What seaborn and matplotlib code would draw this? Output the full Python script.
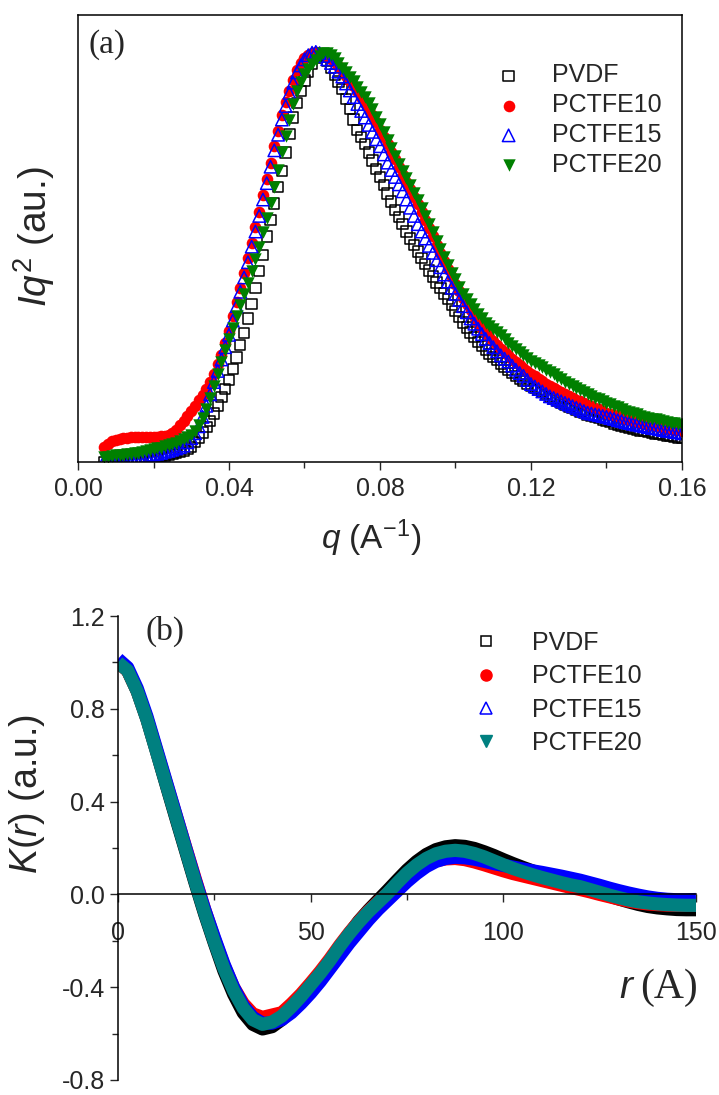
import matplotlib
matplotlib.use("Agg")
import matplotlib.pyplot as plt
from matplotlib.lines import Line2D
from matplotlib.ticker import MultipleLocator, FormatStrFormatter
import numpy as np
import seaborn as sns

# ---- panel (a): Iq^2 vs q, q = 0.007 ... 0.160 step 0.001 ----
q = np.round(np.arange(7, 161) / 1000, 3)

pvdf_a = [
    0.000, 0.001, 0.001, 0.002, 0.002, 0.003, 0.003, 0.004, 0.005, 0.006,
    0.007, 0.008, 0.009, 0.010, 0.012, 0.014, 0.016, 0.018, 0.020, 0.023,
    0.025, 0.028, 0.032, 0.037, 0.048, 0.060, 0.072, 0.085, 0.100, 0.118,
    0.138, 0.158, 0.178, 0.200, 0.227, 0.255, 0.285, 0.315, 0.350, 0.385,
    0.425, 0.465, 0.505, 0.550, 0.590, 0.630, 0.670, 0.710, 0.755, 0.800,
    0.840, 0.875, 0.905, 0.930, 0.952, 0.970, 0.985, 0.993, 0.990, 0.978,
    0.962, 0.945, 0.928, 0.910, 0.885, 0.860, 0.835, 0.810, 0.792, 0.775,
    0.755, 0.735, 0.715, 0.695, 0.675, 0.655, 0.635, 0.615, 0.597, 0.580,
    0.562, 0.545, 0.529, 0.513, 0.497, 0.482, 0.467, 0.452, 0.438, 0.425,
    0.411, 0.397, 0.382, 0.368, 0.354, 0.340, 0.328, 0.316, 0.304, 0.293,
    0.283, 0.273, 0.264, 0.256, 0.248, 0.240, 0.232, 0.225, 0.217, 0.210,
    0.203, 0.197, 0.191, 0.186, 0.181, 0.176, 0.170, 0.165, 0.160, 0.155,
    0.150, 0.145, 0.140, 0.135, 0.131, 0.127, 0.123, 0.120, 0.116, 0.113,
    0.110, 0.107, 0.103, 0.100, 0.097, 0.094, 0.091, 0.089, 0.086, 0.084,
    0.082, 0.079, 0.077, 0.075, 0.073, 0.071, 0.069, 0.068, 0.066, 0.064,
    0.063, 0.062, 0.060, 0.059,
]
pctfe10_a = [
    0.037, 0.045, 0.050, 0.054, 0.056, 0.058, 0.059, 0.060, 0.061, 0.061,
    0.061, 0.061, 0.061, 0.062, 0.062, 0.063, 0.064, 0.066, 0.070, 0.078,
    0.090, 0.101, 0.113, 0.125, 0.137, 0.150, 0.163, 0.178, 0.195, 0.215,
    0.238, 0.262, 0.290, 0.320, 0.355, 0.390, 0.425, 0.460, 0.497, 0.535,
    0.572, 0.610, 0.650, 0.690, 0.730, 0.770, 0.808, 0.845, 0.877, 0.905,
    0.932, 0.955, 0.972, 0.985, 0.993, 0.998, 1.000, 0.998, 0.995, 0.990,
    0.983, 0.975, 0.965, 0.955, 0.942, 0.930, 0.918, 0.905, 0.890, 0.875,
    0.860, 0.845, 0.828, 0.810, 0.792, 0.775, 0.757, 0.740, 0.720, 0.700,
    0.682, 0.665, 0.647, 0.630, 0.610, 0.590, 0.570, 0.550, 0.530, 0.510,
    0.490, 0.470, 0.452, 0.435, 0.417, 0.400, 0.385, 0.370, 0.355, 0.340,
    0.327, 0.315, 0.305, 0.295, 0.285, 0.275, 0.267, 0.260, 0.252, 0.245,
    0.237, 0.230, 0.222, 0.215, 0.209, 0.203, 0.197, 0.191, 0.185, 0.180,
    0.175, 0.170, 0.165, 0.160, 0.156, 0.152, 0.148, 0.144, 0.140, 0.136,
    0.132, 0.128, 0.124, 0.120, 0.117, 0.114, 0.111, 0.108, 0.105, 0.103,
    0.100, 0.098, 0.095, 0.093, 0.091, 0.089, 0.087, 0.085, 0.083, 0.081,
    0.080, 0.078, 0.077, 0.075,
]
pctfe15_a = [
    0.004, 0.005, 0.006, 0.007, 0.008, 0.009, 0.010, 0.011, 0.012, 0.013,
    0.014, 0.015, 0.017, 0.018, 0.020, 0.022, 0.025, 0.027, 0.030, 0.033,
    0.036, 0.040, 0.048, 0.058, 0.070, 0.087, 0.110, 0.137, 0.165, 0.195,
    0.222, 0.250, 0.280, 0.310, 0.345, 0.380, 0.415, 0.450, 0.487, 0.525,
    0.562, 0.600, 0.640, 0.680, 0.720, 0.760, 0.798, 0.835, 0.868, 0.900,
    0.925, 0.950, 0.967, 0.982, 0.992, 0.998, 1.000, 0.997, 0.990, 0.982,
    0.973, 0.964, 0.952, 0.940, 0.923, 0.906, 0.890, 0.873, 0.856, 0.840,
    0.822, 0.805, 0.787, 0.770, 0.750, 0.730, 0.712, 0.695, 0.677, 0.660,
    0.640, 0.620, 0.600, 0.580, 0.562, 0.545, 0.527, 0.510, 0.492, 0.475,
    0.457, 0.440, 0.425, 0.410, 0.395, 0.380, 0.365, 0.350, 0.337, 0.325,
    0.312, 0.300, 0.290, 0.280, 0.270, 0.260, 0.252, 0.245, 0.235, 0.225,
    0.217, 0.210, 0.200, 0.190, 0.184, 0.178, 0.172, 0.166, 0.160, 0.156,
    0.152, 0.148, 0.144, 0.140, 0.136, 0.132, 0.128, 0.124, 0.120, 0.118,
    0.116, 0.114, 0.112, 0.110, 0.107, 0.105, 0.102, 0.100, 0.097, 0.095,
    0.093, 0.091, 0.089, 0.087, 0.085, 0.083, 0.082, 0.080, 0.078, 0.076,
    0.075, 0.073, 0.072, 0.070,
]
pctfe20_a = [
    0.012, 0.013, 0.015, 0.016, 0.017, 0.018, 0.019, 0.020, 0.022, 0.023,
    0.025, 0.027, 0.029, 0.031, 0.033, 0.035, 0.038, 0.041, 0.044, 0.047,
    0.051, 0.055, 0.060, 0.066, 0.076, 0.090, 0.108, 0.130, 0.157, 0.185,
    0.215, 0.245, 0.273, 0.300, 0.327, 0.355, 0.382, 0.410, 0.437, 0.465,
    0.495, 0.525, 0.560, 0.595, 0.632, 0.670, 0.712, 0.755, 0.795, 0.835,
    0.872, 0.905, 0.927, 0.945, 0.958, 0.970, 0.980, 0.990, 0.997, 0.998,
    0.992, 0.985, 0.972, 0.960, 0.950, 0.940, 0.928, 0.915, 0.902, 0.890,
    0.875, 0.860, 0.842, 0.825, 0.805, 0.785, 0.765, 0.745, 0.727, 0.710,
    0.692, 0.675, 0.657, 0.640, 0.620, 0.600, 0.580, 0.560, 0.540, 0.520,
    0.500, 0.480, 0.462, 0.445, 0.427, 0.410, 0.397, 0.385, 0.372, 0.360,
    0.350, 0.340, 0.332, 0.325, 0.317, 0.310, 0.300, 0.290, 0.282, 0.275,
    0.267, 0.260, 0.253, 0.247, 0.242, 0.236, 0.231, 0.225, 0.220, 0.214,
    0.208, 0.202, 0.196, 0.190, 0.185, 0.180, 0.175, 0.170, 0.165, 0.161,
    0.157, 0.153, 0.149, 0.145, 0.141, 0.137, 0.133, 0.129, 0.125, 0.122,
    0.119, 0.116, 0.113, 0.110, 0.108, 0.106, 0.104, 0.102, 0.100, 0.098,
    0.096, 0.094, 0.092, 0.090,
]

# ---- panel (b): K(r) vs r, r = 0 ... 150 step 2.5 ----
r = np.arange(0, 151, 2.5)

pvdf_b = [
    1.000, 0.965, 0.875, 0.755, 0.615, 0.472, 0.330, 0.190, 0.050, -0.085,
    -0.210, -0.330, -0.430, -0.510, -0.560, -0.580, -0.570, -0.540, -0.500, -0.450,
    -0.400, -0.345, -0.288, -0.228, -0.170, -0.115, -0.068, -0.025, 0.018, 0.062,
    0.105, 0.142, 0.172, 0.193, 0.205, 0.210, 0.207, 0.198, 0.184, 0.168,
    0.150, 0.133, 0.117, 0.102, 0.088, 0.075, 0.062, 0.048, 0.035, 0.021,
    0.007, -0.007, -0.020, -0.032, -0.043, -0.052, -0.058, -0.062, -0.065, -0.066,
    -0.066,
]
pctfe10_b = [
    1.000, 0.965, 0.878, 0.760, 0.622, 0.483, 0.345, 0.207, 0.070, -0.065,
    -0.190, -0.305, -0.400, -0.470, -0.515, -0.530, -0.520, -0.510, -0.472, -0.430,
    -0.382, -0.332, -0.278, -0.220, -0.166, -0.117, -0.072, -0.033, 0.004, 0.045,
    0.080, 0.107, 0.128, 0.145, 0.153, 0.155, 0.150, 0.140, 0.128, 0.115,
    0.102, 0.090, 0.080, 0.070, 0.060, 0.050, 0.040, 0.030, 0.021, 0.011,
    0.000, -0.010, -0.020, -0.029, -0.036, -0.041, -0.044, -0.046, -0.047, -0.047,
    -0.046,
]
pctfe15_b = [
    1.015, 0.978, 0.888, 0.768, 0.628, 0.488, 0.347, 0.205, 0.065, -0.065,
    -0.185, -0.300, -0.400, -0.480, -0.530, -0.555, -0.555, -0.540, -0.510, -0.470,
    -0.425, -0.375, -0.320, -0.265, -0.210, -0.160, -0.110, -0.065, -0.025, 0.015,
    0.055, 0.090, 0.120, 0.142, 0.155, 0.160, 0.158, 0.152, 0.143, 0.133,
    0.125, 0.118, 0.110, 0.102, 0.095, 0.087, 0.079, 0.070, 0.061, 0.050,
    0.039, 0.027, 0.016, 0.006, -0.003, -0.011, -0.017, -0.021, -0.023, -0.023,
    -0.022,
]
pctfe20_b = [
    1.000, 0.965, 0.875, 0.755, 0.615, 0.475, 0.335, 0.195, 0.055, -0.080,
    -0.205, -0.320, -0.415, -0.490, -0.540, -0.560, -0.550, -0.525, -0.485, -0.440,
    -0.390, -0.340, -0.285, -0.225, -0.170, -0.120, -0.075, -0.035, 0.005, 0.050,
    0.092, 0.127, 0.155, 0.175, 0.186, 0.190, 0.186, 0.176, 0.162, 0.145,
    0.128, 0.112, 0.098, 0.085, 0.073, 0.062, 0.051, 0.041, 0.033, 0.021,
    0.009, -0.003, -0.014, -0.024, -0.032, -0.037, -0.041, -0.044, -0.046, -0.047,
    -0.047,
]

labels = ["PVDF", "PCTFE10", "PCTFE15", "PCTFE20"]

sns.set_style("ticks")
plt.rcParams["font.family"] = ["Liberation Sans", "DejaVu Sans"]
plt.rcParams["mathtext.fontset"] = "custom"
plt.rcParams["mathtext.rm"] = "Liberation Sans"
plt.rcParams["mathtext.it"] = "Liberation Sans:italic"
plt.rcParams["axes.unicode_minus"] = False

fig = plt.figure(figsize=(7.19, 10.95), dpi=100)
ax1 = fig.add_axes([0.1085, 0.5781, 0.84, 0.4082])
ax2 = fig.add_axes([0.1641, 0.0137, 0.8039, 0.4237])

# panel (a)
sty_a = [
    dict(marker="s", s=55, fc="none", ec="black", linewidth=1.1),
    dict(marker="o", s=70, color="red", ec="red", linewidth=0),
    dict(marker="^", s=80, fc="none", ec="blue", linewidth=1.1),
    dict(marker="v", s=80, color="green", ec="green", linewidth=0),
]
for ys, lab, kw in zip([pvdf_a, pctfe10_a, pctfe15_a, pctfe20_a], labels, sty_a):
    sns.scatterplot(x=q, y=ys, ax=ax1, label=lab, **kw)

ax1.set(xlim=(0, 0.16), ylim=(0, 1.09))
ax1.xaxis.set_major_locator(MultipleLocator(0.04))
ax1.xaxis.set_minor_locator(MultipleLocator(0.02))
ax1.xaxis.set_major_formatter(FormatStrFormatter("%.2f"))
ax1.set_yticks([])
ax1.tick_params(axis="x", which="major", direction="out", length=6, width=1,
                labelsize=18, pad=5)
ax1.tick_params(axis="x", which="minor", direction="out", length=4, width=1)
for sp in ax1.spines.values():
    sp.set_linewidth(1.1)
    sp.set_color("black")
ax1.set_xlabel(r"$q$ (A$^{-1}$)", fontsize=24)
ax1.xaxis.set_label_coords(0.485, -0.125)
ax1.set_ylabel(r"$Iq^{2}$ (au.)", fontsize=28)
ax1.yaxis.set_label_coords(-0.035, 0.505)
ax1.text(0.0166, 0.933, "(a)", transform=ax1.transAxes, fontsize=24,
         family="Liberation Serif", va="center")
ax1.legend(loc="upper left", bbox_to_anchor=(0.655, 0.942), frameon=False,
           fontsize=18, handlelength=1.0, handletextpad=1.22, labelspacing=0.23)

# panel (b)
cols_b = ["black", "red", "blue", "teal"]
for ys, lab, c in zip([pvdf_b, pctfe10_b, pctfe15_b, pctfe20_b], labels, cols_b):
    sns.lineplot(x=r, y=ys, ax=ax2, color=c, linewidth=9.5,
                 solid_capstyle="butt", solid_joinstyle="round", legend=False)

ax2.set(xlim=(0, 150), ylim=(-0.8, 1.2))
ax2.spines["top"].set_visible(False)
ax2.spines["right"].set_visible(False)
ax2.spines["bottom"].set_position(("data", 0))
for sp in ("left", "bottom"):
    ax2.spines[sp].set_linewidth(1.1)
    ax2.spines[sp].set_color("black")
ax2.xaxis.set_major_locator(MultipleLocator(50))
ax2.xaxis.set_minor_locator(MultipleLocator(25))
ax2.yaxis.set_major_locator(MultipleLocator(0.4))
ax2.yaxis.set_minor_locator(MultipleLocator(0.2))
ax2.yaxis.set_major_formatter(FormatStrFormatter("%.1f"))
ax2.tick_params(which="major", direction="out", length=6, width=1, labelsize=18)
ax2.tick_params(which="minor", direction="out", length=4, width=1)
ax2.tick_params(axis="x", which="major", pad=13)
ax2.set_ylabel(r"$K(r)$ (a.u.)", fontsize=27)
ax2.yaxis.set_label_coords(-0.123, 0.617)
ax2.text(0.868, 0.176, "r", transform=ax2.transAxes, fontsize=28, style="italic")
ax2.text(0.903, 0.176, "(A)", transform=ax2.transAxes, fontsize=30,
         family="Liberation Serif")
ax2.text(0.047, 0.966, "(b)", transform=ax2.transAxes, fontsize=24,
         family="Liberation Serif", va="center")
handles_b = [
    Line2D([], [], ls="none", marker="s", ms=6.5, mfc="none", mec="black", mew=1.1),
    Line2D([], [], ls="none", marker="o", ms=8, color="red"),
    Line2D([], [], ls="none", marker="^", ms=8, mfc="none", mec="blue", mew=1.1),
    Line2D([], [], ls="none", marker="v", ms=9, color="teal"),
]
ax2.legend(handles_b, labels, loc="upper left", bbox_to_anchor=(0.577, 1.016),
           frameon=False, fontsize=18, handlelength=1.0, handletextpad=1.34,
           labelspacing=0.37)

fig.savefig("out.png", dpi=100)
